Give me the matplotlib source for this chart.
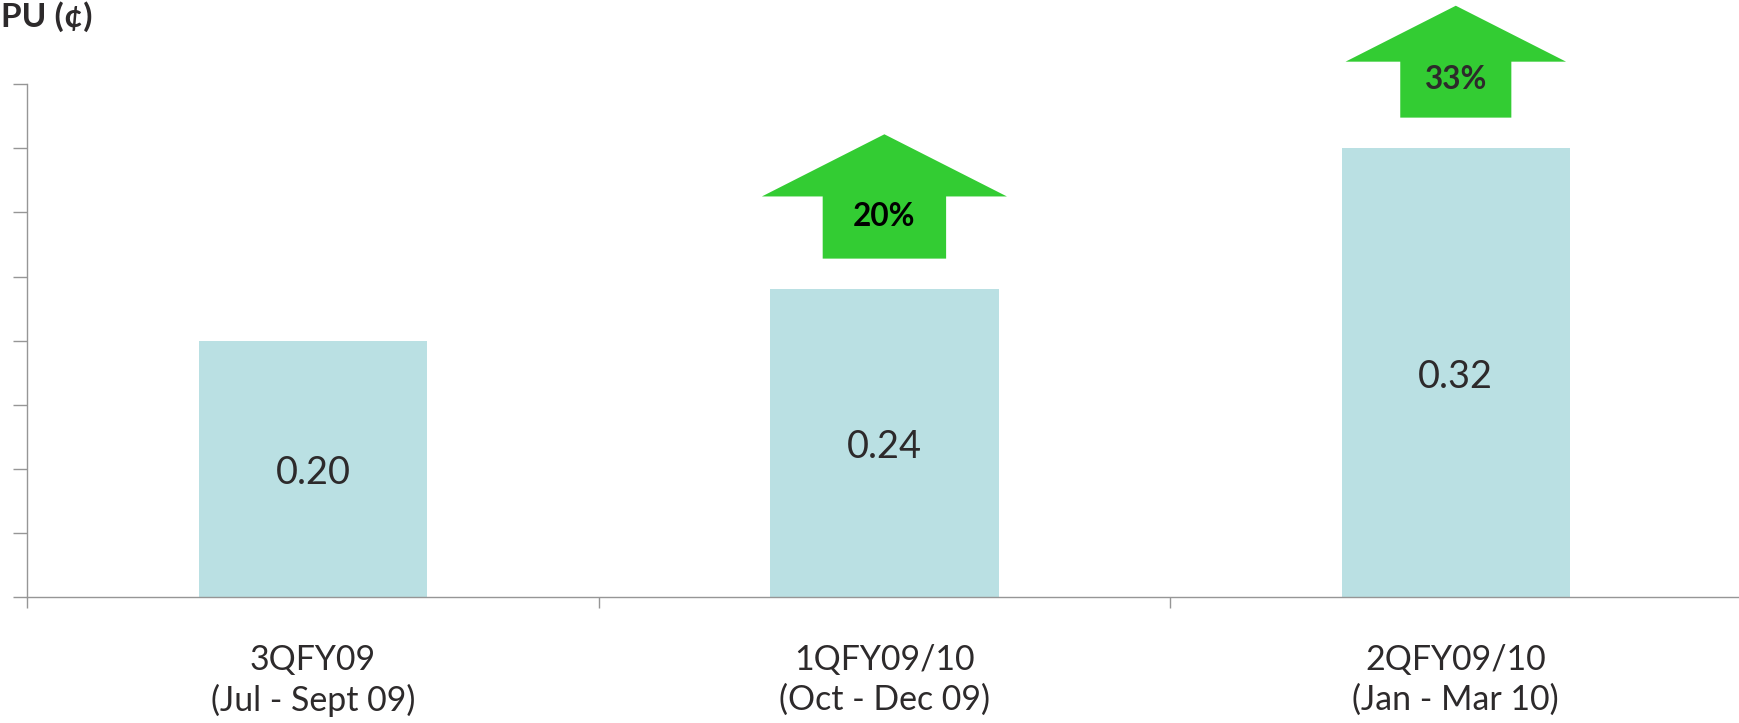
import matplotlib
matplotlib.use("Agg")
import matplotlib.pyplot as plt
from matplotlib.patches import Polygon

# ---- data ----
categories = ["3QFY09\n(Jul - Sept 09)", "1QFY09/10\n(Oct - Dec 09)", "2QFY09/10\n(Jan - Mar 10)"]
bar_heights = [0.20, 0.24, 0.35]          # bar heights as drawn on the chart
value_labels = ["0.20", "0.24", "0.32"]   # labels printed inside the bars
growth_labels = [None, "20%", "33%"]
growth_colors = [None, "#000000", "#2d2a2b"]
arrow_scales = [None, 1.0, 0.9]
y_ticks = [0.00, 0.05, 0.10, 0.15, 0.20, 0.25, 0.30, 0.35, 0.40]
title = "PU (¢)"

# ---- style ----
BAR_COLOR = "#bae0e3"
GREEN = "#33cc33"
TEXT = "#2d2a2b"
SPINE = "#969696"
FONT = ["Lato", "DejaVu Sans"]
plt.rcParams["font.family"] = FONT

W, H, DPI = 1740, 723, 100
fig = plt.figure(figsize=(W / DPI, H / DPI), dpi=DPI)
left_px, right_px, bottom_px, top_px = 27.3, 1741.5, 597, 84.3
ax = fig.add_axes([left_px / W, 1 - bottom_px / H, (right_px - left_px) / W, (bottom_px - top_px) / H])

x = list(range(len(categories)))
bars = ax.bar(x, bar_heights, width=0.40, color=BAR_COLOR, zorder=2)

ax.set_xlim(-0.5, len(categories) - 0.5)
ax.set_ylim(y_ticks[0], y_ticks[-1])

# value labels centred on each bar (baseline shifted by half the digit height)
cap_shift = 0.0118
for xi, h, lab in zip(x, bar_heights, value_labels):
    ax.text(xi, h / 2 - cap_shift, lab, ha="center", va="baseline", fontsize=27.3, color=TEXT, zorder=3)

# growth arrows above bars
gap = 0.024
for xi, h, lab, col, sc in zip(x, bar_heights, growth_labels, growth_colors, arrow_scales):
    if lab is None:
        continue
    wing = 0.2144 * sc
    shaft = 0.108 * sc
    sh = 0.0485 * sc
    hh = 0.0485 * sc
    y0 = h + gap
    pts = [(xi - shaft, y0), (xi + shaft, y0), (xi + shaft, y0 + sh), (xi + wing, y0 + sh),
           (xi, y0 + sh + hh), (xi - wing, y0 + sh), (xi - shaft, y0 + sh)]
    ax.add_patch(Polygon(pts, closed=True, facecolor=GREEN, edgecolor="none", clip_on=False, zorder=3))
    ax.text(xi, y0 + sh * 0.68, lab, ha="center", va="center", fontsize=22.7,
            fontweight="bold", color=col, zorder=4, clip_on=False)

# axes styling
for s in ["top", "right"]:
    ax.spines[s].set_visible(False)
for s in ["left", "bottom"]:
    ax.spines[s].set_color(SPINE)
    ax.spines[s].set_linewidth(1.0)

ax.set_yticks(y_ticks)
ax.set_yticklabels([])
ax.tick_params(axis="y", direction="out", length=10, width=1.0, color=SPINE)

ax.set_xticks(x)
ax.set_xticklabels(categories, fontsize=24.4, color=TEXT, linespacing=1.27)
ax.tick_params(axis="x", which="major", length=0, pad=34)
ax.set_xticks([i - 0.5 for i in range(len(categories) + 1)], minor=True)
ax.tick_params(axis="x", which="minor", direction="out", length=8, width=1.0, color=SPINE)

fig.text(1 / W, 1 - 1 / H, title, ha="left", va="top", fontsize=24,
         fontweight="bold", color=TEXT)

fig.savefig("out.png", dpi=DPI)
